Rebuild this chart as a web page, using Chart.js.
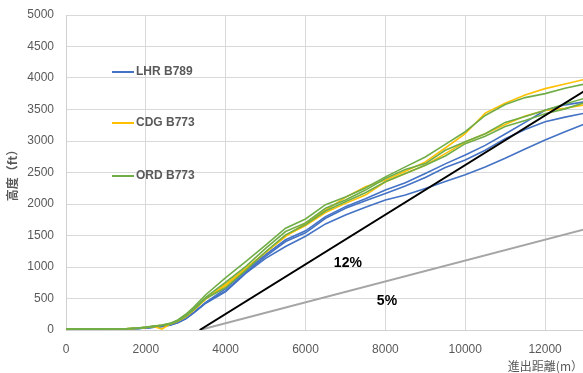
<!DOCTYPE html>
<html><head><meta charset="utf-8">
<script src="https://cdn.jsdelivr.net/npm/chart.js@4.4.1/dist/chart.umd.min.js"></script>
<style>html,body{margin:0;padding:0;background:#fff}#wrap{position:relative;width:583px;height:373px}</style>
</head><body><div id="wrap"><canvas id="c"></canvas></div>
<script>
// departure distance (m) shared by every recorded climb
const distance = [0,500,1000,1500,1800,2000,2200,2400,2600,2800,3000,3200,3500,4000,4500,5000,5500,6000,6500,7000,7500,8000,8500,9000,9500,10000,10500,11000,11500,12000,12500,13000];

// altitude (ft) of each recorded departure
const lhr1 = [12,12,13,16,24,33,45,58,78,120,185,280,440,658,942,1195,1432,1574,1800,1958,2084,2221,2337,2484,2637,2779,2931,3110,3295,3489,3574,3621];
const lhr2 = [12,12,13,15,23,32,44,57,76,118,180,275,430,621,916,1168,1405,1542,1774,1932,2053,2168,2284,2421,2579,2700,2853,3037,3184,3305,3379,3442];
const lhr3 = [12,12,12,15,22,31,43,56,75,115,178,270,425,610,900,1137,1326,1489,1684,1826,1947,2063,2142,2247,2358,2463,2589,2726,2874,3016,3147,3274];
const cdg1 = [14,14,15,18,30,42,60,75,95,145,215,320,495,726,979,1232,1484,1700,1900,2105,2274,2379,2521,2668,2889,3116,3442,3600,3731,3831,3905,3979];
const cdg2 = [14,14,15,18,28,40,55,15,90,140,210,315,490,705,963,1232,1495,1658,1863,2010,2142,2353,2484,2616,2800,2984,3116,3263,3395,3484,3521,3574];
const ord1 = [15,15,16,20,32,45,62,80,105,160,250,365,560,832,1084,1347,1616,1763,1989,2110,2253,2431,2589,2747,2947,3147,3405,3579,3689,3752,3837,3905];
const ord2 = [14,14,15,19,30,43,60,76,98,150,230,340,520,758,1005,1295,1563,1700,1932,2063,2221,2405,2547,2642,2853,2989,3116,3295,3389,3489,3589,3679];
const ord3 = [14,14,15,18,29,41,57,72,92,142,220,325,500,674,947,1242,1510,1674,1889,2037,2179,2353,2484,2616,2763,2958,3074,3231,3326,3432,3510,3610];

// climb-gradient reference lines
const gradeDistance = [3350, 13000];
const grade12 = [0, 3800];
const grade5 = [0, 1600];

const legendNames = ['LHR B789', 'CDG B773', 'ORD B773'];
const yTicks = [0,500,1000,1500,2000,2500,3000,3500,4000,4500,5000];
const xTicks = [0,2000,4000,6000,8000,10000,12000];

const BLUE = '#4472C4', YELLOW = '#FFC000', GREEN = '#70AD47';
const pts = (xs, ys) => xs.map((x, i) => ({x, y: ys[i]}));
const series = (data, color, w) => ({data: pts(distance, data), borderColor: color, borderWidth: w || 1.6, pointRadius: 0, tension: 0, fill: false});

const datasets = [
  {data: pts(gradeDistance, grade12), borderColor: '#000', borderWidth: 2, pointRadius: 0, fill: false},
  {data: pts(gradeDistance, grade5), borderColor: '#A5A5A5', borderWidth: 2, pointRadius: 0, fill: false},
  series(ord1, GREEN), series(ord2, GREEN), series(ord3, GREEN),
  series(cdg1, YELLOW), series(cdg2, YELLOW),
  series(lhr1, BLUE), series(lhr2, BLUE), series(lhr3, BLUE)
];

const overlay = {
  id: 'overlay',
  afterDatasetsDraw(chart) {
    const {ctx, scales: {x, y}} = chart;
    ctx.save();
    // series key
    const keys = [[legendNames[0], BLUE, 72], [legendNames[1], YELLOW, 123], [legendNames[2], GREEN, 176]];
    ctx.font = 'bold 12px "Liberation Sans", Arial, sans-serif';
    ctx.textBaseline = 'middle';
    ctx.textAlign = 'left';
    keys.forEach(([name, color, py]) => {
      ctx.strokeStyle = color; ctx.lineWidth = 2;
      ctx.beginPath(); ctx.moveTo(112, py); ctx.lineTo(134, py); ctx.stroke();
      ctx.fillStyle = '#595959';
      ctx.fillText(name, 136, py);
    });
    // gradient labels
    ctx.font = 'bold 14px "Liberation Sans", Arial, sans-serif';
    ctx.fillStyle = '#000';
    ctx.textAlign = 'center';
    ctx.fillText('12%', x.getPixelForValue(7060), y.getPixelForValue(1060));
    ctx.fillText('5%', x.getPixelForValue(8040), y.getPixelForValue(460));
    ctx.restore();
  }
};

const tickFont = {family: '"Liberation Sans", Arial, sans-serif', size: 12};
const plain = v => String(v);
new Chart(document.getElementById('c'), {
  type: 'line',
  data: {datasets},
  options: {
    responsive: true, maintainAspectRatio: false, animation: false,
    layout: {padding: {top: 15, right: 0, bottom: 0, left: 0}},
    plugins: {legend: {display: false}, tooltip: {enabled: false}},
    scales: {
      x: {
        type: 'linear', min: 0, max: 12950,
        afterFit(s) { s.height = 43; },
        afterBuildTicks(s) { s.ticks = xTicks.map(v => ({value: v})); },
        grid: {color: '#D9D9D9', drawTicks: false},
        border: {color: '#D0D0D0'},
        ticks: {color: '#595959', font: tickFont, padding: 12, maxRotation: 0, autoSkip: false, callback: plain},
        title: {display: true, text: '進出距離(m）', align: 'end', color: '#595959',
          font: {family: '"Noto Sans CJK JP", "Liberation Sans", sans-serif', size: 12}, padding: {top: 0, bottom: -1}}
      },
      y: {
        min: 0, max: 5000,
        afterFit(s) { s.width = 66; s.paddingTop = 0; },
        afterBuildTicks(s) { s.ticks = yTicks.map(v => ({value: v})); },
        grid: {color: '#D9D9D9', drawTicks: false},
        border: {color: '#D0D0D0'},
        ticks: {color: '#595959', font: tickFont, padding: 12, callback: plain},
        title: {display: true, text: '高度（ft）', color: '#595959',
          font: {family: '"Noto Sans CJK JP", sans-serif', size: 12, weight: 'bold'}, padding: {top: 5, bottom: 0}}
      }
    }
  },
  plugins: [overlay]
});
</script>
</body></html>
